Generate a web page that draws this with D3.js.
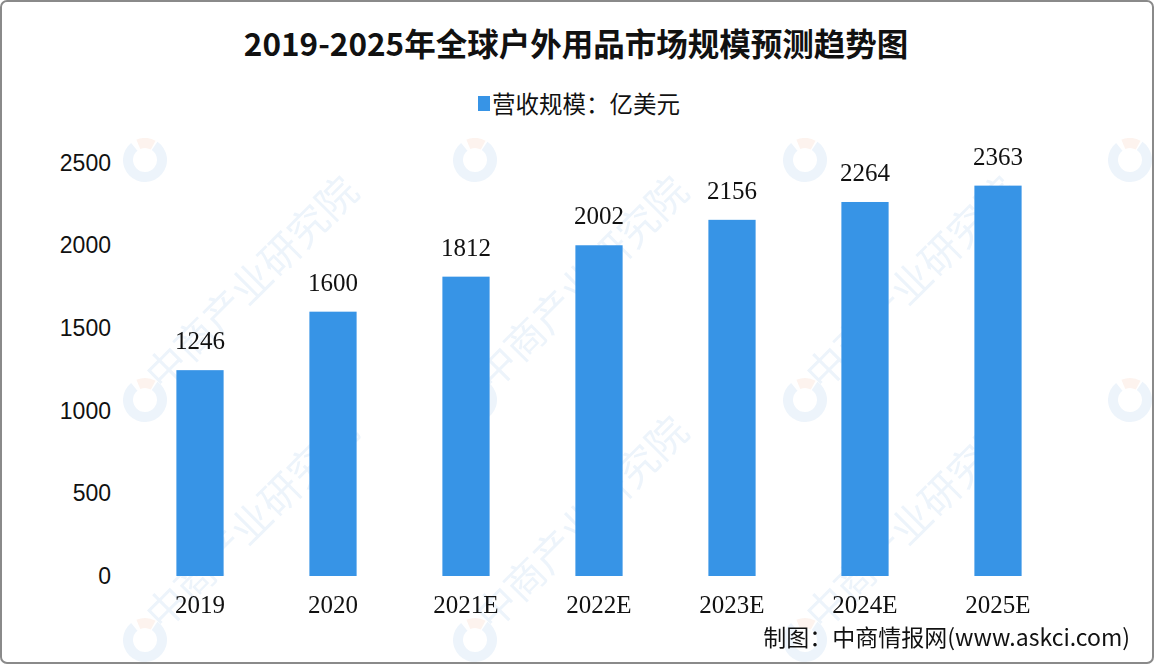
<!DOCTYPE html>
<html>
<head>
<meta charset="utf-8">
<script src="https://cdn.jsdelivr.net/npm/d3@7"></script>
<style>
  body { margin: 0; background: #fff; }
  svg { display: block; }
</style>
</head>
<body>
<script>
// chart data
var years = ["2019", "2020", "2021E", "2022E", "2023E", "2024E", "2025E"];
var revenue = [1246, 1600, 1812, 2002, 2156, 2264, 2363];
var yTicks = [0, 500, 1000, 1500, 2000, 2500];

var W = 1154, H = 664;
var svg = d3.select("body").append("svg")
    .attr("width", W)
    .attr("height", H);

// frame
svg.append("rect")
    .attr("x", 1).attr("y", 1)
    .attr("width", W - 2).attr("height", H - 2)
    .attr("rx", 6)
    .style("fill", "#fff")
    .style("stroke", "#8a8a8a")
    .style("stroke-width", 2);

// faint watermarks (logo + text running up-right)
var wm = svg.append("g").style("opacity", 0.09);
[[145, 160, 0], [475, 160, 0], [805, 160, 0], [1130, 160, 0],
 [145, 400, 1], [475, 400, 1], [805, 400, 1], [1130, 400, 0],
 [145, 640, 1], [475, 640, 1], [805, 640, 1]].forEach(function(p) {
  wm.append("path")
      .attr("transform", "translate(" + p[0] + "," + p[1] + ")")
      .attr("d", d3.arc().innerRadius(12).outerRadius(22).startAngle(0.6).endAngle(5.6)())
      .style("fill", "#2f7fd0");
  wm.append("path")
      .attr("transform", "translate(" + p[0] + "," + p[1] + ")")
      .attr("d", d3.arc().innerRadius(12).outerRadius(22).startAngle(-0.4).endAngle(0.5)())
      .style("fill", "#e8743b");
  if (p[2]) {
    wm.append("text")
        .attr("transform", "translate(" + (p[0] + 18) + "," + (p[1] - 8) + ") rotate(-45)")
        .style("font-family", "Noto Sans CJK SC")
        .style("font-size", "40px")
        .style("fill", "#2f7fd0")
        .text("中商产业研究院");
  }
});

// scales
var x = d3.scaleBand().domain(years).range([133.5, 1064.5])
    .paddingInner(0.645).paddingOuter(0.3225);
var y = d3.scaleLinear().domain([0, 2500]).range([576, 163]);

// title
svg.append("text")
    .attr("x", 576).attr("y", 56)
    .attr("text-anchor", "middle")
    .style("font-family", "Noto Sans CJK SC")
    .style("font-weight", "bold")
    .style("font-size", "31.5px")
    .style("fill", "#111")
    .text("2019-2025年全球户外用品市场规模预测趋势图");

// legend
svg.append("rect")
    .attr("x", 478).attr("y", 96)
    .attr("width", 12).attr("height", 15)
    .style("fill", "#3794e6");
svg.append("text")
    .attr("x", 492).attr("y", 113)
    .style("font-family", "Noto Sans CJK SC")
    .style("font-size", "23.5px")
    .style("fill", "#111")
    .text("营收规模：亿美元");

// y axis labels
var yAxis = svg.append("g")
    .attr("transform", "translate(111,0)")
    .call(d3.axisLeft(y).tickValues(yTicks).tickFormat(d3.format("d")).tickSize(0).tickPadding(0));
yAxis.select(".domain").remove();
yAxis.selectAll("text")
    .style("font-family", "Liberation Sans")
    .style("font-size", "23px")
    .style("fill", "#111");

// x axis labels
var xAxis = svg.append("g")
    .attr("transform", "translate(0,595)")
    .call(d3.axisBottom(x).tickSize(0).tickPadding(0));
xAxis.select(".domain").remove();
xAxis.selectAll("text")
    .style("font-family", "Liberation Serif")
    .style("font-size", "25px")
    .style("fill", "#111");

// bars
svg.selectAll(".bar")
    .data(revenue)
    .enter().append("rect")
    .attr("class", "bar")
    .attr("x", function(d, i) { return x(years[i]); })
    .attr("y", function(d) { return y(d); })
    .attr("width", x.bandwidth())
    .attr("height", function(d) { return y(0) - y(d); })
    .style("fill", "#3794e6");

// value labels
svg.selectAll(".val")
    .data(revenue)
    .enter().append("text")
    .attr("class", "val")
    .attr("x", function(d, i) { return x(years[i]) + x.bandwidth() / 2; })
    .attr("y", function(d) { return y(d) - 21; })
    .attr("text-anchor", "middle")
    .style("font-family", "Liberation Serif")
    .style("font-size", "25px")
    .style("fill", "#111")
    .text(function(d) { return d; });

// source
svg.append("text")
    .attr("x", 1130).attr("y", 646)
    .attr("text-anchor", "end")
    .style("font-family", "Noto Sans CJK SC")
    .style("font-size", "23px")
    .style("fill", "#111")
    .text("制图：中商情报网(www.askci.com)");
</script>
</body>
</html>
